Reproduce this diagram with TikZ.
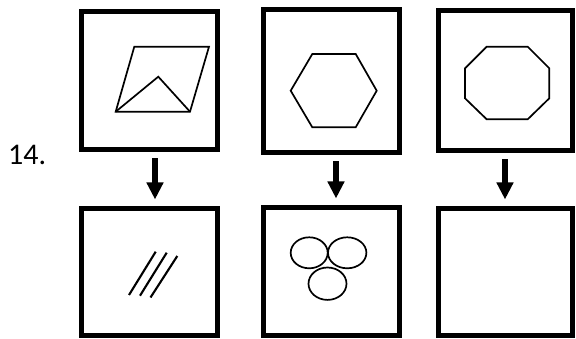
\documentclass[tikz,border=0pt]{standalone}
\usepackage{fontspec}
\setmainfont{Carlito}
\usetikzlibrary{arrows.meta,calc}
\tikzset{
  frame/.style={draw=black, line width=5pt, rectangle, inner sep=0pt},
  figline/.style={line width=1.7pt, line join=miter},
  slash/.style={line width=2.1pt},
  arr/.style={line width=5.5pt, -{Triangle[width=16pt,length=17pt]}, shorten <=6.5pt, shorten >=6.5pt},
}
\begin{document}
\begin{tikzpicture}[x=1pt,y=-1pt]
\useasboundingbox (0,0) rectangle (576,339);
% frames
\node[frame, minimum width=136pt, minimum height=138pt] (b1) at (149.5,80.5) {};
\node[frame, minimum width=136pt, minimum height=143pt] (b2) at (331.5,81) {};
\node[frame, minimum width=134pt, minimum height=140pt] (b3) at (505.5,80.5) {};
\node[frame, minimum width=136pt, minimum height=127pt] (b4) at (149.5,272) {};
\node[frame, minimum width=136pt, minimum height=128pt] (b5) at (331.5,271.5) {};
\node[frame, minimum width=134pt, minimum height=127pt] (b6) at (505.5,272) {};
% label
\node[anchor=base west, inner sep=0pt, font=\fontsize{30}{30}\selectfont] (num) at (8,165) {14.};
% arrow columns
\coordinate (c1) at (155,0);
\coordinate (c2) at (336,0);
\coordinate (c3) at (505,0);
\draw[arr] (b1.south -| c1) -- (b4.north -| c1);
\draw[arr] (b2.south -| c2) -- (b5.north -| c2);
\draw[arr] (b3.south -| c3) -- (b6.north -| c3);
% parallelogram with triangle
\draw[figline] (134.3,46.7) -- (209,46.7) -- (190,111.7) -- (115.7,111.7) -- cycle;
\draw[figline] (115.7,111.7) -- (158.3,76.7) -- (190,111.7);
% hexagon
\draw[figline] (312.3,54) -- (355.7,54) -- (376.7,90.7) -- (355.7,127.3) -- (312.3,127.3) -- (290.7,90.7) -- cycle;
% octagon
\draw[figline] (486.7,46.7) -- (527.7,46.7) -- (549.3,68.3) -- (549.3,98.3) -- (527.7,119.3) -- (486.7,119.3) -- (465,98.3) -- (465,68.3) -- cycle;
% slashes
\draw[slash] (129,295) -- (155.7,251.7);
\draw[slash] (140,295.7) -- (166.7,252.7);
\draw[slash] (150.5,297.5) -- (177.3,256);
% circles
\draw[figline] (309.2,252.8) ellipse [x radius=18.5, y radius=15.5];
\draw[figline] (347.2,252.8) ellipse [x radius=19.2, y radius=15.5];
\draw[figline] (327.5,283.7) ellipse [x radius=19, y radius=16.2];
\end{tikzpicture}
\end{document}
